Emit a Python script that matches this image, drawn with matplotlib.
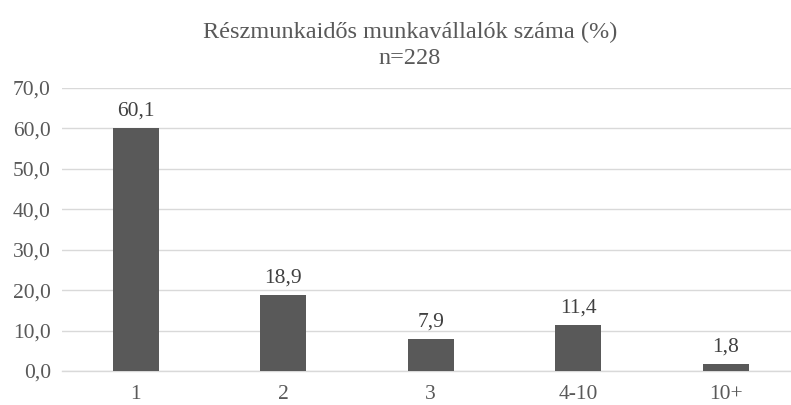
import matplotlib
matplotlib.use("Agg")
import matplotlib.pyplot as plt

categories = ["1", "2", "3", "4-10", "10+"]
values = [60.1, 18.9, 7.9, 11.4, 1.8]
yticks = [0, 10, 20, 30, 40, 50, 60, 70]

plt.rcParams['font.family'] = ['Liberation Serif', 'DejaVu Serif']

fig = plt.figure(figsize=(7.91, 4.05), dpi=100)
ax = fig.add_axes([62/791, 1-371/405, 737.5/791, (371-88)/405])

x = list(range(len(categories)))
ax.bar(x, values, width=0.31, color="#595959", zorder=3)
for xi, v in zip(x, values):
    ax.text(xi, v + 3.0, f"{v:.1f}".replace(".", ","), ha="center", va="baseline",
            fontsize=15.5, color="#404040")

ax.set_xlim(-0.5, len(categories) - 0.5)
ax.set_ylim(0, 70)
ax.set_yticks(yticks)
ax.set_yticklabels([f"{t:.1f}".replace(".", ",") for t in yticks])
ax.set_xticks(x)
ax.set_xticklabels(categories)
ax.tick_params(axis="both", length=0, labelsize=15.5, colors="#595959")
ax.tick_params(axis="y", pad=8)
ax.tick_params(axis="x", pad=10)
ax.grid(axis="y", color="#d9d9d9", linewidth=1, zorder=0)
for s in ["top", "right", "left"]:
    ax.spines[s].set_visible(False)
ax.spines["bottom"].set_color("#d9d9d9")
ax.spines["bottom"].set_linewidth(1)

fig.text(410/791, 1-32/405, "Részmunkaidős munkavállalók száma (%)", ha="center",
         va="center", fontsize=17.5, color="#595959")
fig.text(410/791, 1-58/405, "n=228", ha="center",
         va="center", fontsize=17.5, color="#595959")

fig.savefig("out.png", dpi=100)
